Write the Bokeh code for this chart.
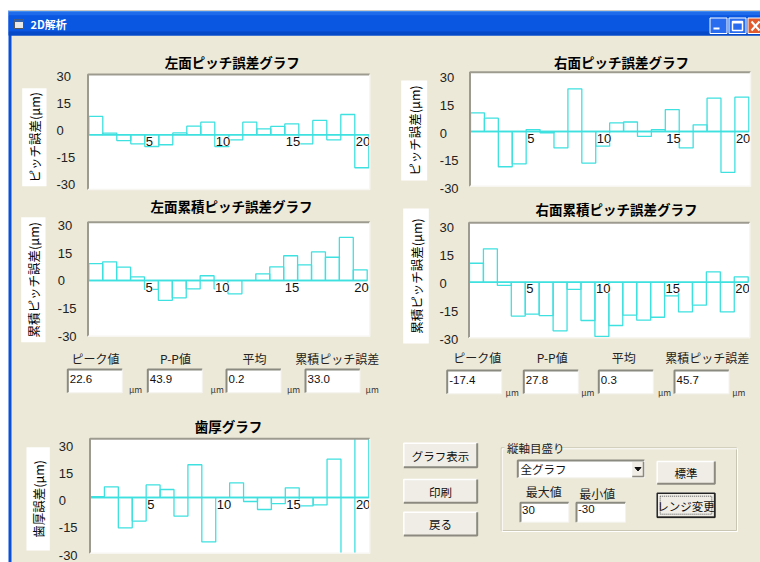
import numpy as np
from bokeh.plotting import figure
from bokeh.models import Range1d
from bokeh.core.properties import value
from bokeh.embed import file_html
from bokeh.resources import INLINE

W, H = 760, 562

# ---------------- data ----------------
teeth = list(range(1, 21))
x_ticks = [5, 10, 15, 20]
y_ticks = [30, 15, 0, -15, -30]

left_pitch = [9.6, 0.9, -3.0, -4.7, -6.1, -5.2, 1.0, 4.5, 6.6, -6.1,
              -2.6, 6.6, 3.1, 4.4, 5.7, -4.7, 7.5, -2.6, 10.6, -17.2]
right_pitch = [9.8, 7.0, -18.5, -17.0, 1.0, -0.7, -8.6, 22.4, -16.6, -7.7,
               4.5, 5.0, -2.6, 1.0, 11.5, -8.6, 3.5, 17.5, -21.5, 18.0]
left_cum = [8.9, 9.8, 7.0, 1.9, -4.7, -10.4, -9.1, -4.4, 2.5, -4.4,
            -7.0, 0.0, 3.5, 7.2, 13.0, 8.2, 15.0, 12.2, 22.6, 5.6]
right_cum = [9.9, 17.4, -1.7, -17.7, -16.7, -17.4, -25.4, -3.7, -20.0, -28.3,
             -22.6, -17.2, -19.8, -18.3, -7.1, -15.5, -12.0, 5.4, -15.5, 2.8]
thickness = [0.5, 5.6, -15.9, -12.4, 6.6, 4.2, -9.8, 17.2, -23.3, 0.0,
             7.7, -2.1, -6.3, -3.2, 5.1, -4.4, -3.9, 20.1, -40.0, 40.0]

stat_names = ["ピーク値", "P-P値", "平均", "累積ピッチ誤差"]
left_stats = ["22.6", "43.9", "0.2", "33.0"]
right_stats = ["-17.4", "27.8", "0.3", "45.7"]

# ---------------- styles ----------------
BG = "#ECE9D8"
CYAN = "#3FE0E0"
JP = "Noto Sans CJK JP"
LAT = "Liberation Sans"

p = figure(width=W, height=H, x_range=Range1d(0, W), y_range=Range1d(H, 0),
           output_backend="svg", toolbar_location=None, min_border=0,
           x_axis_type=None, y_axis_type=None, background_fill_color="white",
           border_fill_color="white", outline_line_color=None)
p.grid.visible = False


def box(x0, y0, x1, y1, fill, line=None, lw=1):
    return p.quad(left=[x0], right=[x1], top=[y0], bottom=[y1], fill_color=fill,
                  line_color=line, line_width=lw)


def txt(x, y, s, size, color="#111111", font=JP, align="left",
        baseline="middle", bold=False, angle=0.0):
    p.text(x=[x], y=[y], text=[s], text_font=value(font),
           text_font_size=f"{size}px", text_color=color, text_align=align,
           text_baseline=baseline, angle=angle,
           text_font_style="bold" if bold else "normal")


def sunken(x0, y0, x1, y1):
    box(x0, y0, x1, y1, "white")
    p.line(x=[x0, x0, x1], y=[y1, y0, y0], line_color="#8a8a80", line_width=2)
    p.line(x=[x0, x1, x1], y=[y1, y1, y0], line_color="#f4f3ee", line_width=1)


def button(x0, y0, x1, y1, label, default=False):
    box(x0, y0, x1, y1, "#EFEDE5")
    p.line(x=[x0, x0, x1], y=[y1, y0, y0], line_color="white", line_width=1.5)
    p.line(x=[x0, x1, x1], y=[y1, y1, y0], line_color="#8c8a80", line_width=2)
    if default:
        box(x0, y0, x1, y1, None, "#222222", 1.5)
        focus = box(x0 + 3, y0 + 3, x1 - 3, y1 - 3, None, "#555555", 1)
        focus.glyph.line_dash = "1 1"
    txt((x0 + x1) / 2, (y0 + y1) / 2 + 0.5, label, 11.5, align="center")


# ---------------- window chrome ----------------
box(8, 10, W + 2, H + 2, "#0A4FD8")
box(11, 35, W + 2, H + 2, BG)
# title bar shading
for (ya, yb, c) in [(10, 12, "#3F8CF3"), (12, 15, "#1E6CEB"), (15, 31, "#0A58E2"),
                    (31, 35, "#0649C8")]:
    box(8, ya, W + 2, yb, c)
p.line(x=[8, W], y=[10, 10], line_color="#c8c8c8", line_width=1)
# window icon and caption
box(14, 19, 23, 28, "#E8E8E8", "#555555", 1)
box(14, 19, 23, 21.5, "#3060B0")
txt(30, 23.5, "2D解析", 11, color="white", bold=True)
# caption buttons
box(709.5, 17.5, 726.5, 33, "#2A6CF0", "white", 1)
box(713, 27, 719, 29, "white")
box(728.5, 17.5, 745.5, 33, "#2A6CF0", "white", 1)
box(732, 21, 742, 30, None, "white", 1.5)
box(732, 21, 742, 23, "white")
box(747.5, 17.5, 764, 33, "#E35A2C", "white", 1)
p.segment(x0=[751, 751], y0=[21, 30], x1=[759, 759], y1=[30, 21],
          line_color="white", line_width=2)

# ---------------- charts ----------------
panels = [
    dict(vals=left_pitch, title="左面ピッチ誤差グラフ", ylabel="ピッチ誤差(μm)",
         frame=(87.5, 74, 369.3, 189), bars=(88.3, 368.3), zero=134.3, ppu=1.916,
         title_xy=(231.7, 61.7), tick_x=56, tick_y=(184, 76),
         lab=(21.7, 87.7, 46, 185.7)),
    dict(vals=right_pitch, title="右面ピッチ誤差グラフ", ylabel="ピッチ誤差(μm)",
         frame=(469.5, 71.7, 750, 185.7), bars=(470, 748.3), zero=131, ppu=1.905,
         title_xy=(621, 61.7), tick_x=439.3, tick_y=(188.3, 76.7),
         lab=(400.7, 80, 426.7, 180)),
    dict(vals=left_cum, title="左面累積ピッチ誤差グラフ", ylabel="累積ピッチ誤差(μm)",
         frame=(87.5, 221.7, 369.3, 335.7), bars=(88.3, 366.7), zero=280, ppu=1.905,
         title_xy=(231, 205), tick_x=57.3, tick_y=(335.7, 225),
         lab=(20.7, 216.7, 45, 341.7)),
    dict(vals=right_cum, title="右面累積ピッチ誤差グラフ", ylabel="累積ピッチ誤差(μm)",
         frame=(468.5, 222.3, 749.3, 337.3), bars=(469, 747.7), zero=281.7, ppu=1.916,
         title_xy=(616, 208), tick_x=439, tick_y=(339, 227.3),
         lab=(402.7, 208, 428.3, 343)),
    dict(vals=thickness, title="歯厚グラフ", ylabel="歯厚誤差(μm)",
         frame=(89.5, 438.3, 369.3, 552.7), bars=(90, 368.3), zero=497, ppu=1.905,
         title_xy=(228, 425), tick_x=58.3, tick_y=(554.5, 445.7),
         lab=(26, 446.7, 49.3, 550)),
]

for c in panels:
    fx0, fy0, fx1, fy1 = c["frame"]
    box(fx0, fy0, fx1, fy1, "white")

    zero, ppu = c["zero"], c["ppu"]
    sub = p.subplot(x_source=Range1d(1, 21), y_source=Range1d(-30, 30),
                    x_target=Range1d(*c["bars"]),
                    y_target=Range1d(zero + 30 * ppu, zero - 30 * ppu))
    # out-of-range bars run past the frame edge; the overflow is masked below
    hi = (zero - fy0 + 6) / ppu
    lo = -(fy1 - zero + 6) / ppu
    tops = np.clip(np.array(c["vals"], dtype=float), lo, hi)
    sub.quad(left=teeth, right=[t + 1 for t in teeth], bottom=0, top=tops,
             fill_color=None, line_color=CYAN, line_width=1.3)
    sub.line(x=[1, 21], y=[0, 0], line_color=CYAN, line_width=1.5)
    sub.text(x=x_ticks, y=[0] * len(x_ticks), text=[str(t) for t in x_ticks],
             text_font=value(LAT), text_font_size="13px", text_color="#111111",
             text_align="left", text_baseline="top", x_offset=1, y_offset=2,
             background_fill_color="white")

    # mask overflow above and below the plotting frame
    box(fx0, fy0 - 8, fx1 + 1, fy0, BG)
    box(fx0, fy1, fx1 + 1, fy1 + 8, BG)

    # sunken frame edges
    p.line(x=[fx0, fx0, fx1], y=[fy1, fy0, fy0], line_color="#9d9b90", line_width=2)
    p.line(x=[fx0, fx1, fx1], y=[fy1, fy1, fy0], line_color="#f7f6f1", line_width=1.5)

    # vertical scale labels
    tsub = p.subplot(x_source=Range1d(0, 1), y_source=Range1d(-30, 30),
                     x_target=Range1d(c["tick_x"], c["tick_x"] + 1),
                     y_target=Range1d(*c["tick_y"]))
    tsub.text(x=[0] * len(y_ticks), y=y_ticks, text=[str(v) for v in y_ticks],
              text_font=value(LAT), text_font_size="13px", text_color="#222222",
              text_align="left", text_baseline="middle")

    tx, ty = c["title_xy"]
    txt(tx, ty, c["title"], 13.5, color="#000000", align="center", bold=True)

    lx0, ly0, lx1, ly1 = c["lab"]
    box(lx0, ly0, lx1, ly1, "white")
    txt((lx0 + lx1) / 2 + 0.5, (ly0 + ly1) / 2, c["ylabel"], 12.5, color="#000000",
        align="center", angle=np.pi / 2)

# ---------------- statistic fields ----------------
stat_groups = [
    (left_stats, [95, 175, 254, 336.7], 358.3, [67.3, 147.3, 226, 305], 369, 392.3,
     [135, 216.7, 293, 371.7], 388.5),
    (right_stats, [476.7, 551.7, 623.3, 706.7], 356.7, [446.7, 523.3, 598.3, 674], 370,
     393.3, [511.7, 587.3, 664, 738.3], 391.7),
]
for vals, lxs, ly, bxs, by0, by1, uxs, uy in stat_groups:
    for name, v, lx, bx, ux in zip(stat_names, vals, lxs, bxs, uxs):
        txt(lx, ly, name, 12, color="#222222", align="center")
        sunken(bx, by0, bx + 54.5, by1)
        txt(bx + 2, by0 + 9.5, v, 11.5, color="#111111", font=LAT)
        txt(ux, uy, "μm", 8.5, color="#333333", align="center")

# ---------------- buttons and range controls ----------------
button(403.3, 442.7, 476.7, 466.7, "グラフ表示")
button(403.3, 479, 476.7, 502.3, "印刷")
button(403.3, 511.7, 476.7, 535, "戻る")

# group frame
p.line(x=[504, 500.7, 500.7, 736, 736, 560], y=[447.3, 447.3, 530, 530, 447.3, 447.3],
       line_color="#c9c6b4", line_width=1)
p.line(x=[504, 501.7, 501.7, 737, 737, 560], y=[448.3, 448.3, 531, 531, 448.3, 448.3],
       line_color="#ffffff", line_width=1)
txt(506.5, 447, "縦軸目盛り", 11.5, color="#222222")

# combo box
sunken(517.3, 460, 644, 477.3)
txt(520, 468.5, "全グラフ", 11.5, color="#111111")
box(631.7, 461.5, 643, 476, "#EFEDE5")
p.line(x=[631.7, 643, 643], y=[476, 476, 461.5], line_color="#8c8a80", line_width=1.5)
p.patch(x=[634.5, 640.5, 637.5], y=[467, 467, 470.5], fill_color="#111111",
        line_color="#111111")

txt(543.3, 490.7, "最大値", 12, color="#222222", align="center")
txt(596.7, 493.3, "最小値", 12, color="#222222", align="center")
sunken(520, 502.3, 568.3, 521.7)
txt(521.5, 509, "30", 11.5, font=LAT)
sunken(576, 502.3, 625, 521.7)
txt(577.5, 508, "-30", 11.5, font=LAT)

button(656.7, 461, 714.3, 483.3, "標準")
button(656.7, 492.7, 714.3, 516.7, "レンジ変更", default=True)

open("out.html", "w").write(file_html(p, INLINE))
